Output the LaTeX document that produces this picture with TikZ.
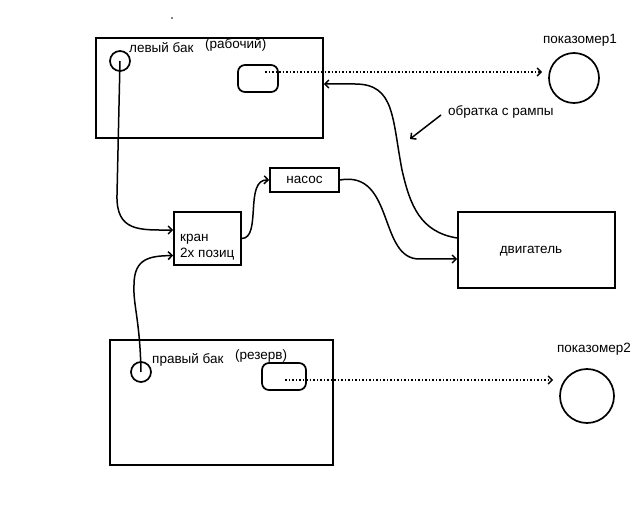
\documentclass[tikz,border=0pt]{standalone}
\usepackage{fontspec}
\setmainfont{Liberation Sans}
\usetikzlibrary{arrows.meta}
\tikzset{
  box/.style={draw,line width=1.7pt,inner sep=0pt},
  float/.style={box,rounded corners=7pt},
  pipe/.style={line width=1.5pt,-{Straight Barb[length=4pt,width=8pt]}},
  signal/.style={line width=1.5pt,dotted,-{Straight Barb[length=4pt,width=8pt]}},
  lbl/.style={font=\fontsize{13.5}{16}\selectfont,inner sep=0pt}
}
\begin{document}
\begin{tikzpicture}[x=1pt,y=-1pt]
\useasboundingbox (0,0) rectangle (640,513);
\fill (172,18) circle (0.8pt);
\node[box,minimum width=227pt,minimum height=100pt] (lefttank) at (209.5,88) {};
\node[lbl,anchor=west] (lefttxt) at (129,48) {левый бак};
\node[lbl,anchor=west] (leftrole) at (205,45) {(рабочий)};
\node[box,circle,minimum size=20pt] (lintake) at (120,61) {};
\node[float,minimum width=40pt,minimum height=27pt] (lfloat) at (258,78.5) {};
\node[box,circle,minimum size=50pt] (gauge1) at (574,78) {};
\node[lbl] (gauge1txt) at (580,40) {показомер1};
\node[box,minimum width=223pt,minimum height=125pt] (righttank) at (221.5,402.5) {};
\node[lbl,anchor=west] (righttxt) at (152,360) {правый бак};
\node[lbl,anchor=west] (rightrole) at (235,356) {(резерв)};
\node[box,circle,minimum size=20pt] (rintake) at (141,372) {};
\node[float,minimum width=44pt,minimum height=27pt] (rfloat) at (284,376.5) {};
\node[box,circle,minimum size=54pt] (gauge2) at (587,396) {};
\node[lbl] (gauge2txt) at (594,349) {показомер2};
\node[box,minimum width=67pt,minimum height=53pt] (valve) at (207.5,238.5) {};
\node[lbl,anchor=west,align=left] (valvetxt) at (180,247) {кран\\2х позиц};
\node[box,minimum width=69pt,minimum height=24pt,lbl,draw,line width=1.7pt] (pump) at (304.5,180) {насос};
\node[box,minimum width=157pt,minimum height=76pt] (engine) at (536.5,250) {};
\node[lbl] (enginetxt) at (531,251) {двигатель};
\node[lbl,anchor=west] (note) at (448,112) {обратка с рампы};
\coordinate (lsig) at (265,72);
\coordinate (rsig) at (285,380);
\draw[signal,shorten >=6pt] (lsig) -- (lsig -| gauge1.west);
\draw[signal,shorten >=6pt] (rsig) -- (rsig -| gauge2.west);
\draw[pipe] (lintake.center) -- (117,195) .. controls (116,232) and (140,230) .. ([yshift=8.5pt]valve.west);
\draw[pipe] (rintake.center) .. controls (140,320) and (133,305) .. (134,285) .. controls (134,258) and (150,256) .. ([yshift=-17pt]valve.west);
\draw[pipe] (valve.east) .. controls (262,238) and (244,179) .. (pump.west);
\draw[pipe] (pump.east) .. controls (395,170) and (378,260) .. (420,259) -- ([yshift=-9pt]engine.west);
\draw[pipe] ([yshift=12pt]engine.west) .. controls (420,232) and (410,205) .. (402,170) .. controls (392,118) and (395,84) .. (355,84) -- ([yshift=4pt]lefttank.east);
\draw[pipe] ([xshift=-7pt,yshift=-3pt]note.west) -- (410,139);
\end{tikzpicture}
\end{document}
